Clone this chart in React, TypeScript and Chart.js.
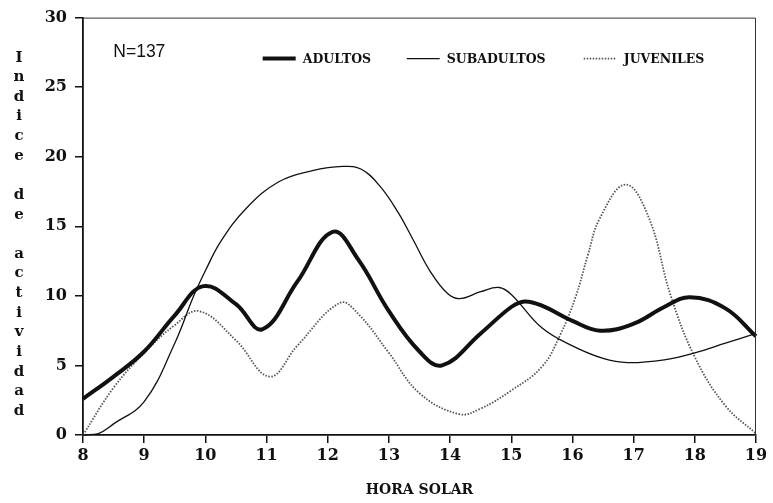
import React, { useEffect, useRef } from "react";
import { Chart, registerables } from "chart.js";

Chart.register(...registerables);

// Hour of day (solar time) sampled per series, and activity index values
const adultHours = [8, 8.5, 9, 9.5, 9.97, 10.5, 10.93, 11.5, 12.08, 12.5, 13, 13.5, 13.87, 14.5, 15, 15.22, 15.5, 16, 16.45, 17, 17.5, 17.92, 18.5, 19];
const adultValues = [2.6, 4.2, 6.0, 8.6, 10.7, 9.4, 7.6, 11.0, 14.6, 12.6, 8.9, 6.0, 5.0, 7.3, 9.2, 9.6, 9.3, 8.2, 7.5, 8.0, 9.2, 9.9, 9.1, 7.1];

const subadultHours = [8, 8.25, 8.5, 9, 9.5, 9.8, 10, 10.25, 10.67, 11.2, 11.75, 12.25, 12.55, 12.85, 13.15, 13.4, 13.67, 13.95, 14.15, 14.5, 14.8, 15, 15.5, 16, 16.5, 16.9, 17.5, 18, 18.5, 19];
const subadultValues = [0, 0.1, 0.8, 2.4, 6.6, 9.9, 11.8, 13.9, 16.3, 18.2, 19.0, 19.3, 19.1, 17.9, 16.0, 14.0, 11.8, 10.2, 9.8, 10.3, 10.6, 10.1, 7.7, 6.4, 5.5, 5.2, 5.4, 5.9, 6.6, 7.3];

const juvenileHours = [8, 8.5, 9, 9.5, 9.9, 10.5, 11.05, 11.5, 12.2, 12.5, 13, 13.5, 14.15, 14.5, 15, 15.5, 15.8, 16.05, 16.25, 16.45, 16.87, 17.25, 17.6, 18, 18.5, 19];
const juvenileValues = [0, 3.4, 5.9, 7.9, 8.9, 6.8, 4.2, 6.4, 9.5, 8.7, 5.9, 3.0, 1.5, 1.9, 3.2, 4.9, 7.2, 9.9, 12.9, 15.6, 18.0, 15.6, 10.1, 5.6, 2.1, 0.1];

const seriesNames = ["ADULTOS", "SUBADULTOS", "JUVENILES"];
const sampleLabel = "N=137";
const yTitle = "Indice de actividad";
const xTitle = "HORA SOLAR";
const xMin = 8;
const xMax = 19;
const yMin = 0;
const yMax = 30;
const yStep = 5;

const SERIF = "'DejaVu Serif', serif";

const toPoints = (xs: number[], ys: number[]) => xs.map((x, i) => ({ x, y: ys[i] }));

const overlayPlugin = {
  id: "overlay",
  afterDraw(chart: any) {
    const { ctx, chartArea } = chart;
    const { left, right, top, bottom } = chartArea;
    ctx.save();
    // frame top and right
    ctx.strokeStyle = "#333";
    ctx.lineWidth = 1;
    ctx.beginPath();
    ctx.moveTo(left, top + 0.5);
    ctx.lineTo(right - 0.5, top + 0.5);
    ctx.lineTo(right - 0.5, bottom);
    ctx.stroke();

    // stacked y title
    ctx.fillStyle = "#111";
    ctx.font = `bold 15px ${SERIF}`;
    ctx.textAlign = "center";
    ctx.textBaseline = "middle";
    const chars = yTitle.split("");
    const pitch = (bottom - top) * 0.047;
    const mid = (top + bottom) / 2 + 8;
    const start = mid - ((chars.length - 1) / 2) * pitch;
    chars.forEach((c, i) => {
      if (c !== " ") ctx.fillText(c, 19, start + i * pitch);
    });

    // N label
    const w = right - left;
    ctx.font = "17.5px 'Liberation Sans', Arial, sans-serif";
    ctx.textAlign = "left";
    ctx.fillText(sampleLabel, left + w * 0.045, top + 35);

    // legend
    const ly = top + 41;
    const items = chart.data.datasets.map((d: any, i: number) => ({
      text: seriesNames[i],
      color: d.borderColor,
      width: d.borderWidth,
      dash: d.borderDash || [],
    }));
    const starts = [left + w * 0.267, left + w * 0.481, left + w * 0.744];
    ctx.font = `bold 12.5px ${SERIF}`;
    items.forEach((it: any, i: number) => {
      const sx = starts[i];
      ctx.strokeStyle = it.color;
      ctx.lineWidth = it.width;
      ctx.setLineDash(it.dash);
      ctx.beginPath();
      ctx.moveTo(sx, ly);
      ctx.lineTo(sx + 33, ly);
      ctx.stroke();
      ctx.setLineDash([]);
      ctx.fillStyle = "#111";
      ctx.fillText(it.text, sx + 40, ly + 1);
    });
    ctx.restore();
  },
};

export default function App() {
  const ref = useRef<HTMLCanvasElement | null>(null);
  useEffect(() => {
    if (!ref.current) return;
    const common = {
      pointRadius: 0,
      tension: 0.4,
      cubicInterpolationMode: "default",
      fill: false,
      clip: 2,
    };
    const chart = new Chart(ref.current, {
      type: "line",
      data: {
        datasets: [
          {
            ...common,
            label: seriesNames[0],
            data: toPoints(adultHours, adultValues),
            borderColor: "#111",
            borderWidth: 4,
          },
          {
            ...common,
            label: seriesNames[1],
            data: toPoints(subadultHours, subadultValues),
            borderColor: "#111",
            borderWidth: 1.3,
          },
          {
            ...common,
            label: seriesNames[2],
            data: toPoints(juvenileHours, juvenileValues),
            borderColor: "#555",
            borderWidth: 1.8,
            borderDash: [1.5, 1.5],
          },
        ] as any,
      },
      options: {
        animation: false,
        responsive: false,
        maintainAspectRatio: false,
        devicePixelRatio: 1,
        layout: { padding: { left: 0, right: 17, top: 13, bottom: 0 } },
        plugins: {
          legend: { display: false },
          tooltip: { enabled: false },
          title: { display: false },
        },
        scales: {
          x: {
            type: "linear",
            min: xMin,
            max: xMax,
            afterFit: (s: any) => {
              s.height = 68;
            },
            ticks: {
              stepSize: 1,
              color: "#111",
              padding: 3,
              font: { family: SERIF, weight: "bold", size: 16 },
              maxRotation: 0,
            },
            grid: {
              drawOnChartArea: false,
              drawTicks: true,
              tickLength: 8,
              color: "#111",
              lineWidth: 1.5,
            },
            border: { color: "#111", width: 1.8 },
            title: {
              display: true,
              text: xTitle,
              color: "#111",
              font: { family: SERIF, weight: "bold", size: 14 },
              padding: { top: 4, bottom: 4 },
            },
          },
          y: {
            min: yMin,
            max: yMax,
            afterFit: (s: any) => {
              s.width = 83;
            },
            ticks: {
              stepSize: yStep,
              color: "#111",
              padding: 8,
              font: { family: SERIF, weight: "bold", size: 16 },
            },
            grid: {
              drawOnChartArea: false,
              drawTicks: true,
              tickLength: 8,
              color: "#111",
              lineWidth: 1.5,
            },
            border: { color: "#111", width: 1.8 },
          },
        },
      },
      plugins: [overlayPlugin],
    });
    return () => chart.destroy();
  }, []);
  return (
    <div style={{ position: "fixed", left: 0, top: 0, width: 773, height: 503, background: "#fff" }}>
      <canvas ref={ref} width={773} height={503} style={{ width: 773, height: 503, display: "block" }} />
    </div>
  );
}
